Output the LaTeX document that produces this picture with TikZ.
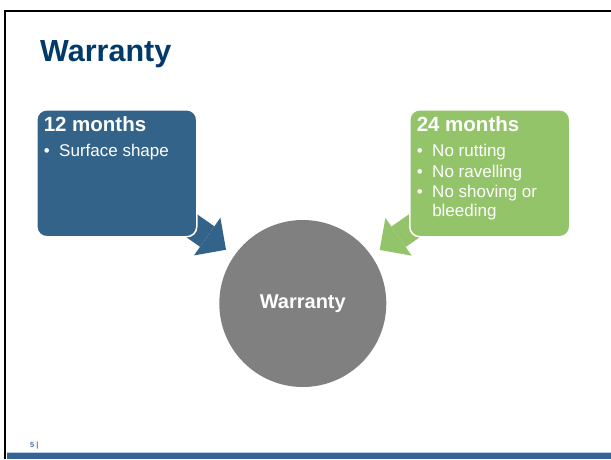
\documentclass[tikz,border=0pt]{standalone}
\usepackage{fontspec}
\setmainfont{Liberation Sans}
\usetikzlibrary{arrows.meta,backgrounds}

\definecolor{titleblue}{RGB}{0,58,106}
\definecolor{panelblue}{RGB}{52,99,138}
\definecolor{panelgreen}{RGB}{147,196,106}
\definecolor{ringgray}{RGB}{128,128,128}
\definecolor{barblue}{RGB}{52,100,148}
\definecolor{barlight}{RGB}{190,205,225}
\definecolor{footblue}{RGB}{70,110,160}

\tikzset{
	panel/.style={anchor=north west, draw=white, line width=1.5pt, rounded corners=10pt, inner sep=7pt, text=white, align=left},
	blockarrow/.style={line width=25pt, -{Triangle[width=46pt,length=23pt,line width=0pt]}, shorten >=10pt},
}

\newcommand{\bulletitem}[1]{\par\hangindent=15.5pt\hangafter=1\noindent\makebox[15.5pt][l]{\textbullet}#1}
\newcommand{\panelbody}[2]{\parbox[t][113pt][t]{146pt}{\raggedright
	{\bfseries\fontsize{20.5pt}{24pt}\selectfont #1\par}
	\fontsize{17pt}{18.7pt}\selectfont\parskip=1.8pt\vspace{4.5pt}#2\par}}

\begin{document}
\begin{tikzpicture}[x=1pt,y=-1pt]
		\useasboundingbox (0,0) rectangle (611,459);
		\draw[line width=2.7pt] (611,11) -- (5,11) -- (5,459);
		\fill[barlight] (6.5,451.5) rectangle (611,453.3);
		\fill[barblue]  (6.5,453.3) rectangle (611,459);

		\node[anchor=base west, inner sep=0pt, text=titleblue, font=\bfseries\fontsize{30.5pt}{36pt}\selectfont] (title) at (40,61.7) {Warranty};

		\node[panel, fill=panelblue]  (twelve)     at ( 36,109) {\panelbody{12 months}{\bulletitem{Surface shape}}};
		\node[panel, fill=panelgreen] (twentyfour) at (409,109) {\panelbody{24 months}{\bulletitem{No rutting}\bulletitem{No ravelling}\bulletitem{No shoving or bleeding}}};

		\node[circle, fill=ringgray, minimum size=167pt, inner sep=0pt, text=white, font=\bfseries\fontsize{20pt}{24pt}\selectfont] (ring) at (302.8,303.5) {Warranty};

		\node[anchor=base west, inner sep=0pt, text=footblue, font=\bfseries\fontsize{7.5pt}{9pt}\selectfont] (pagenum) at (30,447) {5 |};

		\begin{scope}[on background layer]
			\draw[blockarrow, panelblue]  (twelve.center)     -- (ring);
			\draw[blockarrow, panelgreen] (twentyfour.center) -- (ring);
		\end{scope}
	\end{tikzpicture}
\end{document}
